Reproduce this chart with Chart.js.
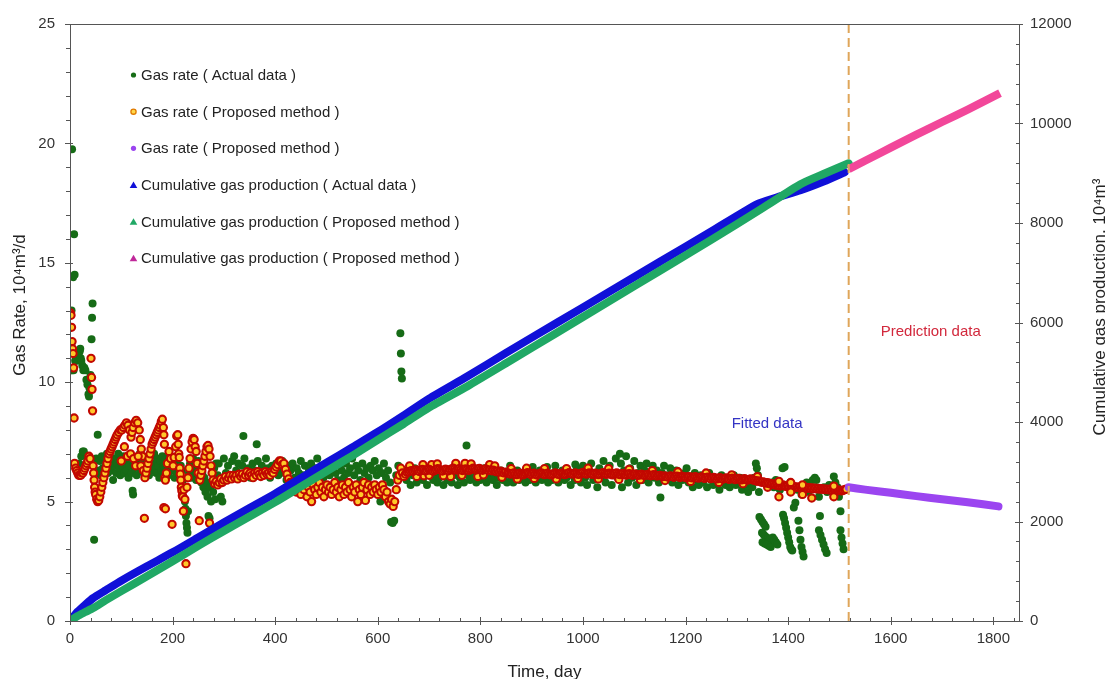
<!DOCTYPE html>
<html><head><meta charset="utf-8">
<script src="https://cdn.jsdelivr.net/npm/chart.js@4/dist/chart.umd.min.js"></script>
<style>html,body{margin:0;padding:0;background:#fff;overflow:hidden}canvas{display:block}</style>
</head><body>
<canvas id="c" width="1105" height="679"></canvas>
<script>
// ---------- tick labels ----------
const xTickValues = [0, 200, 400, 600, 800, 1000, 1200, 1400, 1600, 1800];
const rateTickValues = [0, 5, 10, 15, 20, 25];
const cumTickValues = [0, 2000, 4000, 6000, 8000, 10000, 12000];

// ---------- series labels ----------
const seriesLabels = [
  'Gas rate ( Actual data )',
  'Gas rate ( Proposed method )',
  'Gas rate ( Proposed method )',
  'Cumulative gas production ( Actual data )',
  'Cumulative gas production ( Proposed method )',
  'Cumulative gas production ( Proposed method )'
];

// ---------- gas rate, actual data [day, 10^4 m3/d] ----------
const rateActual = [
[1,10.5],[3,13.0],[4,19.75],[4,10.5],[6,14.4],[7,10.5],[8,16.2],[9,14.5],[10,10.9],[12,11.0],[13,10.9],[15,11.1],[17,11.2],[19,11.3],[20,11.4],[21,11.0],[22,10.9],[24,10.7],[26,10.5],[28,10.6],[30,10.5],[32,10.1],[34,9.9],[36,9.5],[37,9.4],[38,9.75],[40,10.3],[42,11.8],[43,12.7],[44,13.3],[47,3.4],
[18,6.6],[22,6.9],[25,7.1],[27,7.1],[31,6.5],[34,6.8],[49,6.2],[51,6.8],[54,7.8],
[56,6.3],[58,6.7],[60,6.1],[62,6.9],[64,6.4],[66,6.0],[68,6.8],[70,6.5],[72,7.0],[74,6.2],[76,6.6],[78,6.9],[80,6.3],[82,6.7],[84,5.9],[86,6.5],[88,6.8],[90,6.2],[92,6.6],[94,7.0],[96,6.4],[98,6.1],[100,6.7],[102,6.5],[104,6.9],[106,6.2],[108,6.6],[110,6.3],[112,6.8],[114,6.0],[116,6.5],[118,6.9],[120,6.2],[122,5.45],[123,5.3],[124,6.6],[126,6.4],[128,6.8],[130,6.1],[132,6.7],[134,6.5],[136,7.0],[138,6.3],[140,6.6],[142,6.9],[144,6.2],[146,6.5],[148,6.8],[150,6.4],[152,6.7],[154,6.1],[156,6.6],[158,6.9],[160,6.3],[162,6.6],[164,7.0],[166,6.4],[168,6.2],[170,6.8],[172,6.5],[174,6.0],[176,6.7],[178,6.3],[180,6.9],[182,6.5],[184,6.2],[186,6.8],[188,6.4],[190,6.6],[192,6.1],[194,6.9],[196,6.5],[198,6.3],[200,6.7],[202,6.4],[204,6.0],[206,6.6],[208,6.2],[210,6.8],[212,6.4],[214,6.1],[216,6.5],[218,6.3],[220,5.9],[222,5.5],[224,5.0],[225,4.7],[226,4.4],[227,4.1],[228,3.9],[229,3.7],[230,4.6],[232,6.2],[234,6.6],[236,6.0],[238,6.4],[240,6.8],[242,6.2],[244,6.5],[246,5.9],[248,6.3],[250,6.7],[252,6.1],[254,6.4],[256,5.8],[258,6.2],[260,5.6],[262,6.0],[264,5.4],[266,5.8],[268,5.2],[270,4.4],[272,4.3],[273,5.6],[275,5.0],[277,6.2],[279,5.4],[281,6.4],[283,5.1],[285,6.6],
[288,6.1],[290,6.6],[294,5.2],[297,5.0],[300,6.8],[304,6.2],[308,6.5],[312,6.0],[316,6.7],[320,6.9],[324,6.3],[328,6.6],[332,6.1],[336,6.5],[338,7.75],[340,6.8],[344,6.2],[348,6.4],[352,6.0],[356,6.6],[360,6.3],[364,7.4],[366,6.7],[370,6.1],[374,6.5],[378,6.2],[382,6.8],[386,6.4],[390,6.0],[394,6.5],[398,6.3],
[402,6.6],[406,6.1],[410,6.4],[414,6.7],[418,6.2],[422,5.9],[426,6.5],[430,6.3],[434,6.6],[438,6.0],[442,6.4],[446,6.2],[450,6.7],[454,6.1],[458,6.5],[462,5.9],[466,6.3],[470,6.6],[474,6.0],[478,6.4],[482,6.8],[486,6.2],[490,6.5],[494,6.0],[498,6.3],[502,6.6],[506,6.1],[510,6.4],[514,6.7],[518,6.2],[522,5.9],[526,6.5],[530,6.3],[534,6.0],[538,6.6],[542,6.2],[546,6.4],[550,6.8],[554,6.1],[558,6.5],[562,6.3],[566,5.9],[570,6.6],[574,6.2],[578,6.4],[582,6.0],[586,6.5],[590,6.3],[594,6.7],[598,6.1],[602,6.4],[605,5.0],[608,6.2],[612,6.6],[616,6.0],[620,6.3],[624,5.8],[626,4.15],[629,4.1],[632,4.2],[636,6.1],[640,6.5],[644,12.05],[645,11.2],[646,10.45],[647,10.15],
[652,6.3],[656,5.9],[660,6.2],[664,5.7],[668,6.1],[672,6.4],[676,5.8],[680,6.0],[684,6.3],[688,5.9],[692,6.2],[696,5.7],[700,6.1],[704,6.4],[708,5.9],[712,6.2],[716,5.8],[720,6.0],[724,6.3],[728,5.7],[732,6.1],[736,5.9],[740,6.2],[744,5.8],[748,6.1],[752,6.3],[756,5.7],[760,6.0],[764,6.2],[768,5.8],[773,7.35],[776,6.1],[780,5.9],[784,6.3],[788,6.0],[792,5.8],[796,6.2],[800,5.9],[804,6.1],[808,6.4],[812,5.8],[816,6.0],[820,6.2],[824,5.9],[828,6.1],[832,5.7],[836,6.0],[840,6.3],[844,5.9],[848,6.1],[852,5.8],[856,6.2],[860,6.0],[864,5.8],[868,6.1],[872,6.3],[876,5.9],[880,6.0],[884,6.2],[888,5.8],[892,6.1],[896,5.9],[900,6.2],[904,6.0],[908,5.8],[912,6.1],[916,6.3],[920,5.9],[924,6.0],[928,6.2],[932,5.8],[936,6.1],[940,5.9],[944,6.2],[948,6.0],[952,5.8],[956,6.1],[960,6.3],[964,5.9],[968,6.0],[972,6.2],[976,5.7],[980,6.1],[984,5.9],[988,6.4],[992,6.0],[996,5.8],
[858,6.5],[902,6.45],[946,6.5],[985,6.55],[930,6.45],
[1000,6.5],[1004,6.0],[1008,5.7],[1012,6.3],[1016,6.6],[1020,5.9],[1024,6.2],[1028,5.6],[1032,6.4],[1036,6.0],[1040,6.7],[1044,5.8],[1048,6.2],[1052,6.5],[1056,5.7],[1060,6.1],[1064,6.8],[1068,6.0],[1072,7.0],[1074,6.6],[1076,5.6],[1080,6.3],[1084,6.9],[1088,5.8],[1092,6.4],[1096,6.0],[1100,6.7],[1104,5.7],[1108,6.2],[1112,6.5],[1116,5.9],[1120,6.3],[1124,6.6],[1128,5.8],[1132,6.1],[1136,6.5],[1140,6.0],[1144,6.3],[1148,5.8],[1151,5.17],[1154,6.2],[1158,6.5],[1162,5.9],[1166,6.1],[1170,6.4],[1174,5.8],[1178,6.0],[1182,6.3],[1186,5.7],[1190,6.1],[1194,5.9],[1198,6.2],
[1202,6.4],[1206,5.8],[1210,6.0],[1214,5.6],[1218,6.2],[1222,5.9],[1226,5.7],[1230,6.1],[1234,5.8],[1238,6.0],[1242,5.6],[1246,6.2],[1250,5.9],[1254,5.7],[1258,6.0],[1262,5.8],[1266,5.5],[1270,6.1],[1274,5.9],[1278,5.7],[1282,6.0],[1286,5.6],[1290,5.9],[1294,6.1],[1298,5.7],[1302,5.8],[1306,6.0],[1310,5.5],[1314,5.9],[1318,5.7],[1322,5.4],[1326,5.8],[1330,5.6],
[1334,6.0],[1337,6.6],[1339,6.4],[1341,6.1],[1343,5.4],[1344,4.35],[1347,4.25],[1350,4.15],[1353,4.05],[1356,3.95],[1349,3.7],[1352,3.62],[1355,3.55],[1358,3.5],[1361,3.45],[1364,3.4],[1350,3.3],[1354,3.25],[1358,3.2],[1362,3.15],[1366,3.1],[1370,3.5],[1373,3.4],[1376,3.3],[1379,3.2],[1368,5.8],[1372,5.6],[1376,5.9],[1380,5.7],[1384,5.5],[1389,6.4],[1393,6.45],[1390,4.45],[1392,4.3],[1394,4.1],[1396,3.9],[1398,3.7],[1400,3.5],[1402,3.3],[1404,3.1],[1406,3.0],[1408,2.95],[1400,5.6],[1404,5.8],[1408,5.5],[1411,4.75],[1414,4.95],[1418,5.5],[1420,4.2],[1422,3.8],[1424,3.4],[1426,3.1],[1428,2.9],[1430,2.7],[1426,5.3],[1432,5.6],[1436,5.8],[1440,5.4],[1444,5.6],[1448,5.9],[1452,6.0],[1455,5.9],[1458,5.5],[1460,5.2],[1462,4.4],[1460,3.8],[1463,3.6],[1466,3.4],[1469,3.2],[1472,3.0],[1475,2.85],[1470,5.6],[1476,5.4],[1480,5.7],[1484,5.5],[1489,6.05],[1492,5.8],[1496,5.6],[1499,5.2],[1502,4.6],[1502,3.8],[1504,3.5],[1506,3.25],[1508,3.0],[1510,5.5]
];

// ---------- gas rate, proposed method (fitted) ----------
const rateProposed = [
[1,12.9],[2,12.8],[3,12.3],[4,11.7],[5,11.4],[6,11.2],[7,10.6],[8,8.5],
[9,6.6],[11,6.4],[13,6.3],[15,6.2],[17,6.1],[19,6.1],[21,6.1],[23,6.2],[25,6.2],[27,6.3],[29,6.4],[31,6.5],[33,6.6],[35,6.7],[37,6.9],[39,6.8],
[41,11.0],[42,10.2],[43,9.7],[44,8.8],
[45,6.5],[46,6.2],[47,5.9],[48,5.6],[49,5.4],[50,5.3],[52,5.1],[54,5.0],[56,5.05],[58,5.2],
[60,5.4],[62,5.6],[64,5.8],[66,6.0],[68,6.2],[70,6.4],[72,6.6],[74,6.8],[76,7.0],[78,7.1],[80,7.2],[82,7.3],[84,7.4],[86,7.5],[88,7.6],[90,7.7],[92,7.8],[95,7.9],[98,8.0],[101,8.0],[104,8.1],[107,8.2],[110,8.3],[113,8.2],[116,8.0],[119,7.7],[121,7.9],[123,8.1],[126,8.3],[129,8.4],[132,8.3],[135,8.0],[137,7.6],[139,7.2],[141,6.9],
[100,6.7],[106,7.3],[112,6.9],[118,7.0],[124,6.8],[128,6.5],[133,6.9],[138,6.5],[143,6.3],[145,4.3],
[146,6.0],[148,6.2],[150,6.4],[152,6.6],[154,6.8],[156,7.0],[158,7.2],[160,7.4],[162,7.5],[164,7.6],[166,7.7],[168,7.8],[170,7.9],[172,8.0],[174,8.1],[176,8.2],[178,8.35],[180,8.45],[182,8.1],[183,7.8],[184,7.4],[185,6.0],[186,5.9],[183,4.75],[186,4.7],
[188,6.2],[190,6.6],[193,7.1],[196,6.8],[199,4.05],[201,6.5],[203,6.85],[206,7.3],[208,7.75],[210,7.8],[211,7.4],[212,7.0],[213,6.85],[214,6.4],[215,6.15],[216,5.9],[217,5.6],[218,5.45],[219,5.25],[220,5.2],[221,4.6],[222,5.5],[224,5.1],[226,2.4],[228,5.6],[230,6.0],[232,6.4],[234,6.8],[236,7.2],[238,7.5],[240,7.65],[242,7.6],[244,7.3],[246,7.1],[248,6.6],[250,6.2],[252,4.2],[253,5.9],[255,6.1],[257,6.3],[259,6.5],[261,6.7],[263,6.9],[265,7.1],[267,7.3],[269,7.35],[271,7.2],[272,4.1],[273,6.9],[275,6.5],[277,6.2],[279,5.9],
[282,5.75],[285,5.85],[288,5.7],[291,5.8],[294,5.95],[297,5.8],[300,5.9],[303,6.05],[306,5.9],[309,6.0],[312,6.1],[315,5.95],[318,6.1],[321,6.0],[324,6.1],[327,5.95],[330,6.15],[333,6.05],[336,6.15],[339,6.0],[342,6.1],[345,6.25],[348,6.1],[351,6.2],[354,6.1],[357,6.0],[360,6.2],[363,6.1],[366,6.25],[369,6.15],[372,6.05],[375,6.2],[378,6.1],[381,6.25],[384,6.15],[387,6.2],[390,6.1],[393,6.25],[396,6.2],[399,6.35],[402,6.45],[405,6.55],[408,6.7],[411,6.7],[414,6.55],[417,6.6],[420,6.35],[423,6.15],[426,5.95],[429,5.8],
[432,5.8],[435,5.5],[438,5.7],[441,5.4],[444,5.6],[447,5.8],[450,5.3],[453,5.6],[456,5.5],[459,5.7],[462,5.2],[465,5.6],[468,5.4],[471,5.0],[474,5.7],[477,5.5],[480,5.3],[483,5.6],[486,5.8],[489,5.4],[492,5.6],[495,5.2],[498,5.5],[501,5.7],[504,5.4],[507,5.6],[510,5.3],[513,5.5],[516,5.8],[519,5.4],[522,5.6],[525,5.2],[528,5.5],[531,5.7],[534,5.3],[537,5.6],[540,5.4],[543,5.8],[546,5.5],[549,5.2],[552,5.6],[555,5.4],[558,5.7],[561,5.0],[564,5.5],[567,5.3],[570,5.6],[573,5.8],[576,5.05],[579,5.5],[582,5.7],[585,5.3],[588,5.6],[591,5.4],[594,5.7],[597,5.5],[600,5.3],[603,5.6],[606,5.4],[609,5.7],[612,5.5],[615,5.2],[618,5.4],[621,5.0],[624,4.9],[627,5.1],[630,4.8],[633,5.0],[636,5.5],[639,5.9],[642,6.1],[645,6.4],[648,6.2],
[705,6.55],[742,6.05],[770,6.6],[795,6.05],[818,6.55],[690,6.08],
[662,6.5],[676,6.05],[688,6.55],[700,6.1],[716,6.58],[728,6.08],[752,6.6],[764,6.1],[782,6.58],[806,6.12],[828,6.5],[842,6.02],[860,6.38],[872,5.95],[890,6.4],[905,5.97],[925,6.38],[948,5.95],[968,6.38],[990,5.97],[1010,6.4],[1030,5.95],[1050,6.38],[1070,5.93],[1090,6.35],[1112,5.92],[1135,6.3],[1160,5.88],[1185,6.25],[1210,5.84],[1240,6.2],[1265,5.8],[1290,6.12],[1312,5.75],[1340,6.05],[1360,5.6],
[651,6.05],[654,6.15],[657,6.22],[660,6.25],[663,6.28],[666,6.3],[669,6.27],[672,6.3],[675,6.33],[678,6.3],[681,6.26],[684,6.3],[687,6.35],[690,6.32],[693,6.28],[696,6.31],[699,6.36],[702,6.33],[705,6.3],[708,6.27],[711,6.3],[714,6.34],[717,6.38],[720,6.35],[723,6.31],[726,6.28],[729,6.32],[732,6.36],[735,6.33],[738,6.29],[741,6.33],[744,6.37],[747,6.4],[750,6.36],[753,6.32],[756,6.35],[759,6.38],[762,6.34],[765,6.3],[768,6.33],[771,6.37],[774,6.34],[777,6.3],[780,6.33],[783,6.36],[786,6.4],[789,6.37],[792,6.33],[795,6.36],[798,6.39],[801,6.35],[804,6.31],[807,6.34],[810,6.37],[813,6.33],[816,6.3],[819,6.33],[822,6.29],[825,6.32],[828,6.28],[831,6.25],[834,6.28],[837,6.24],[840,6.27],[843,6.23],[846,6.2],[849,6.23],
[853,6.2],[856,6.18],[859,6.15],[862,6.17],[865,6.2],[868,6.16],[871,6.13],[874,6.16],[877,6.19],[880,6.15],[883,6.12],[886,6.15],[889,6.18],[892,6.21],[895,6.17],[898,6.14],[901,6.16],[904,6.19],[907,6.15],[910,6.12],[913,6.15],[916,6.18],[919,6.2],[922,6.16],[925,6.13],[928,6.16],[931,6.19],[934,6.15],[937,6.12],[940,6.14],[943,6.17],[946,6.2],[949,6.17],[952,6.14],[955,6.16],[958,6.19],[961,6.16],[964,6.13],[967,6.15],[970,6.18],[973,6.21],[976,6.18],[979,6.15],[982,6.17],[985,6.2],[988,6.17],[991,6.14],[994,6.16],[997,6.19],[1000,6.22],[1003,6.18],[1006,6.15],[1009,6.17],[1012,6.2],[1015,6.17],[1018,6.14],[1021,6.16],[1024,6.19],[1027,6.16],[1030,6.13],[1033,6.15],[1036,6.18],[1039,6.21],[1042,6.17],[1045,6.14],[1048,6.16],[1051,6.19],[1054,6.15],[1057,6.12],[1060,6.15],[1063,6.18],[1066,6.2],[1069,6.16],[1072,6.13],[1075,6.15],[1078,6.18],[1081,6.14],[1084,6.11],[1087,6.14],[1090,6.17],[1093,6.14],[1096,6.1],[1099,6.13],[1102,6.16],[1105,6.13],[1108,6.1],[1111,6.12],[1114,6.15],[1117,6.12],[1120,6.09],[1123,6.11],[1126,6.14],[1129,6.11],[1132,6.08],[1135,6.1],[1138,6.13],[1141,6.1],[1144,6.07],[1147,6.09],
[1150,6.1],[1153,6.07],[1156,6.05],[1159,6.08],[1162,6.06],[1165,6.03],[1168,6.06],[1171,6.08],[1174,6.05],[1177,6.02],[1180,6.05],[1183,6.07],[1186,6.04],[1189,6.01],[1192,6.04],[1195,6.06],[1198,6.03],[1201,6.0],[1204,6.03],[1207,6.05],[1210,6.02],[1213,5.99],[1216,6.02],[1219,6.04],[1222,6.01],[1225,5.98],[1228,6.01],[1231,6.03],[1234,6.0],[1237,5.97],[1240,6.0],[1243,6.02],[1246,5.99],[1249,5.96],[1252,5.99],[1255,6.01],[1258,5.98],[1261,5.95],[1264,5.98],[1267,6.0],[1270,5.97],[1273,5.94],[1276,5.97],[1279,5.99],[1282,5.96],[1285,5.93],[1288,5.96],[1291,5.98],[1294,5.95],[1297,5.92],[1300,5.95],[1303,5.97],[1306,5.94],[1309,5.91],[1312,5.94],[1315,5.96],[1318,5.93],[1321,5.9],[1324,5.93],[1327,5.95],[1330,5.92],
[1333,5.9],[1336,5.88],[1339,5.85],[1342,5.87],[1345,5.84],[1348,5.81],[1351,5.83],[1354,5.8],[1357,5.77],[1360,5.79],[1363,5.76],[1366,5.73],[1369,5.75],[1372,5.72],[1375,5.69],[1378,5.71],[1381,5.68],[1384,5.65],[1387,5.67],[1390,5.7],[1393,5.66],[1396,5.63],[1399,5.65],[1402,5.62],[1405,5.64],[1408,5.61],[1411,5.63],[1414,5.6],[1417,5.62],[1420,5.59],[1423,5.61],[1426,5.58],[1429,5.6],[1432,5.57],[1435,5.59],[1438,5.56],[1441,5.58],[1444,5.55],[1447,5.57],[1450,5.54],[1453,5.56],[1456,5.53],[1459,5.55],[1462,5.52],[1465,5.54],[1468,5.51],[1471,5.53],[1474,5.5],[1477,5.52],[1480,5.49],[1483,5.51],[1486,5.48],[1489,5.5],[1492,5.47],[1495,5.49],[1498,5.46],[1501,5.48],[1504,5.45],[1507,5.47],[1510,5.5],[1513,5.52],
[1382,5.85],[1382,5.2],[1405,5.8],[1405,5.4],[1428,5.7],[1428,5.3],[1446,5.15],[1489,5.65],[1489,5.2]
];

// ---------- gas rate, prediction ----------
const ratePrediction = [[1518,5.6],[1550,5.5],[1600,5.37],[1650,5.23],[1700,5.1],[1750,4.97],[1810,4.8]];

// ---------- cumulative production [day, 10^4 m3] ----------
const cumActual = [[0,0],[15,190],[30,330],[45,460],[70,620],[100,810],[150,1100],[200,1380],[250,1680],[300,1980],[350,2270],[400,2560],[450,2870],[500,3180],[550,3490],[600,3800],[650,4130],[700,4470],[775,4920],[850,5390],[950,6000],[1050,6610],[1150,7220],[1250,7830],[1340,8380],[1380,8520],[1424,8660],[1470,8840],[1510,9020]];
const cumProposed = [[0,0],[15,100],[30,180],[45,260],[70,420],[100,600],[150,900],[200,1200],[250,1510],[300,1810],[350,2100],[400,2390],[450,2700],[500,3010],[550,3320],[600,3640],[650,3960],[700,4290],[775,4720],[850,5180],[950,5800],[1050,6420],[1150,7040],[1250,7660],[1350,8300],[1424,8780],[1470,8990],[1518,9200]];
const cumPrediction = [[1518,9080],[1550,9250],[1600,9515],[1650,9775],[1700,10030],[1750,10280],[1813,10610]];

// ---------- divider between fitted and predicted ----------
const dividerDay = 1518;

// ---------- annotations ----------
const notes = [
  {text: 'Prediction data', x: 1678, y: 12.12, color: '#d2283c'},
  {text: 'Fitted data', x: 1359, y: 8.25, color: '#3434c4'}
];

const FONT = "'Liberation Sans', Arial, Helvetica, sans-serif";
const pts = arr => arr.map(([x, y]) => ({x, y}));

const legendStyles = [
  {shape: 'circle', fill: '#176d17', stroke: null, r: 2.6},
  {shape: 'circle', fill: '#ffd84a', stroke: '#e07a00', r: 2.6},
  {shape: 'circle', fill: '#9b45f0', stroke: null, r: 2.6},
  {shape: 'tri', fill: '#1010d8'},
  {shape: 'tri', fill: '#20a865'},
  {shape: 'tri', fill: '#c0289a'}
];

const decor = {
  id: 'decor',
  afterDatasetsDraw(chart) {
    const {ctx, chartArea: a, scales} = chart;
    const xs = scales.x, ys = scales.y, y2 = scales.y2;
    ctx.save();
    ctx.strokeStyle = '#555';
    ctx.lineWidth = 1;
    ctx.strokeRect(a.left + 0.5, a.top + 0.5, a.right - a.left, a.bottom - a.top);
    ctx.beginPath();
    for (let v = 0; v <= 1840; v += 40) {
      const p = Math.round(xs.getPixelForValue(v)) + 0.5;
      const major = v % 200 === 0;
      ctx.moveTo(p, a.bottom - (major ? 4 : 3));
      ctx.lineTo(p, a.bottom + (major ? 4 : 0));
    }
    for (let v = 0; v <= 25; v += 1) {
      const p = Math.round(ys.getPixelForValue(v)) + 0.5;
      const major = v % 5 === 0;
      ctx.moveTo(a.left - (major ? 5 : 4), p);
      ctx.lineTo(a.left + (major ? 3 : 0), p);
    }
    for (let v = 0; v <= 12000; v += 400) {
      const p = Math.round(y2.getPixelForValue(v)) + 0.5;
      const major = v % 2000 === 0;
      ctx.moveTo(a.right - (major ? 4 : 3), p);
      ctx.lineTo(a.right + (major ? 4 : 0), p);
    }
    ctx.stroke();
    ctx.restore();
  },
  afterDraw(chart) {
    const {ctx, chartArea: a, scales} = chart;
    ctx.save();
    ctx.fillStyle = '#222';
    ctx.font = '17px ' + FONT;
    ctx.textAlign = 'center';
    ctx.textBaseline = 'alphabetic';
    ctx.save();
    ctx.translate(25, 305);
    ctx.rotate(-Math.PI / 2);
    ctx.fillText('Gas Rate, 10\u2074m\u00b3/d', 0, 0);
    ctx.restore();
    ctx.save();
    ctx.translate(1105, 307);
    ctx.rotate(-Math.PI / 2);
    ctx.fillText('Cumulative gas production, 10\u2074m\u00b3', 0, 0);
    ctx.restore();
    ctx.fillText('Time, day', (a.left + a.right) / 2, 677);
    ctx.font = '15px ' + FONT;
    ctx.textAlign = 'left';
    ctx.textBaseline = 'middle';
    const lx = 133.5, ly0 = 75, dy = 36.67;
    seriesLabels.forEach((label, i) => {
      const s = legendStyles[i];
      const y = ly0 + i * dy;
      ctx.beginPath();
      if (s.shape === 'circle') {
        ctx.arc(lx, y, s.r, 0, Math.PI * 2);
      } else {
        ctx.moveTo(lx, y - 3.5);
        ctx.lineTo(lx + 3.8, y + 3);
        ctx.lineTo(lx - 3.8, y + 3);
        ctx.closePath();
      }
      ctx.fillStyle = s.fill;
      ctx.fill();
      if (s.stroke) { ctx.strokeStyle = s.stroke; ctx.lineWidth = 1.3; ctx.stroke(); }
      ctx.fillStyle = '#222';
      ctx.fillText(label, 141, y + 1);
    });
    ctx.textAlign = 'center';
    notes.forEach(n => {
      ctx.fillStyle = n.color;
      ctx.fillText(n.text, scales.x.getPixelForValue(n.x), scales.y.getPixelForValue(n.y));
    });
    ctx.restore();
  }
};

const tickFont = {family: FONT, size: 15};
new Chart(document.getElementById('c'), {
  type: 'scatter',
  data: {
    datasets: [
      {label: seriesLabels[0], data: pts(rateActual), yAxisID: 'y', order: 6,
       pointRadius: 4, pointBackgroundColor: '#166b16', pointBorderWidth: 0, showLine: false},
      {label: seriesLabels[1], data: pts(rateProposed), yAxisID: 'y', order: 5,
       pointRadius: 3.6, pointBackgroundColor: '#ffc82a', pointBorderColor: '#c20800', pointBorderWidth: 2.1, showLine: false},
      {label: seriesLabels[2], data: pts(ratePrediction), yAxisID: 'y', order: 4,
       showLine: true, borderColor: '#9b45f0', borderWidth: 8, borderCapStyle: 'round', pointRadius: 0, tension: 0.2},
      {label: seriesLabels[3], data: pts(cumActual), yAxisID: 'y2', order: 3,
       showLine: true, borderColor: '#1010d8', borderWidth: 8, borderCapStyle: 'round', borderJoinStyle: 'round', pointRadius: 0, tension: 0.2},
      {label: seriesLabels[4], data: pts(cumProposed), yAxisID: 'y2', order: 2,
       showLine: true, borderColor: '#20a865', borderWidth: 8, borderCapStyle: 'round', borderJoinStyle: 'round', pointRadius: 0, tension: 0.2},
      {label: seriesLabels[5], data: pts(cumPrediction), yAxisID: 'y2', order: 1,
       showLine: true, borderColor: '#f2479a', borderWidth: 8, borderCapStyle: 'butt', pointRadius: 0, tension: 0.2},
      {label: 'divider', data: [{x: dividerDay, y: 0}, {x: dividerDay, y: 25}], yAxisID: 'y', order: 0,
       showLine: true, borderColor: '#dfa65a', borderWidth: 2, borderDash: [9, 5], pointRadius: 0, clip: false}
    ]
  },
  options: {
    responsive: false,
    animation: false,
    devicePixelRatio: 1,
    layout: {padding: {top: 21, left: 0, right: 0, bottom: 0}},
    plugins: {legend: {display: false}, tooltip: {enabled: false}},
    scales: {
      x: {
        type: 'linear', position: 'bottom', min: 0, max: 1850,
        grid: {display: false, drawTicks: false}, border: {display: false},
        ticks: {font: tickFont, color: '#333', padding: 9, maxRotation: 0, autoSkip: false, callback: v => String(v)},
        afterBuildTicks: s => { s.ticks = xTickValues.map(v => ({value: v})); },
        afterFit: s => { s.height = 58; }
      },
      y: {
        type: 'linear', position: 'left', min: 0, max: 25,
        grid: {display: false, drawTicks: false}, border: {display: false},
        ticks: {font: tickFont, color: '#333', padding: 15, autoSkip: false, callback: v => String(v)},
        afterBuildTicks: s => { s.ticks = rateTickValues.map(v => ({value: v})); },
        afterFit: s => { s.width = 70; }
      },
      y2: {
        type: 'linear', position: 'right', min: 0, max: 12000,
        grid: {display: false, drawTicks: false}, border: {display: false},
        ticks: {font: tickFont, color: '#333', padding: 11, autoSkip: false, callback: v => String(v)},
        afterBuildTicks: s => { s.ticks = cumTickValues.map(v => ({value: v})); },
        afterFit: s => { s.width = 86; }
      }
    }
  },
  plugins: [decor]
});
</script>
</body></html>
